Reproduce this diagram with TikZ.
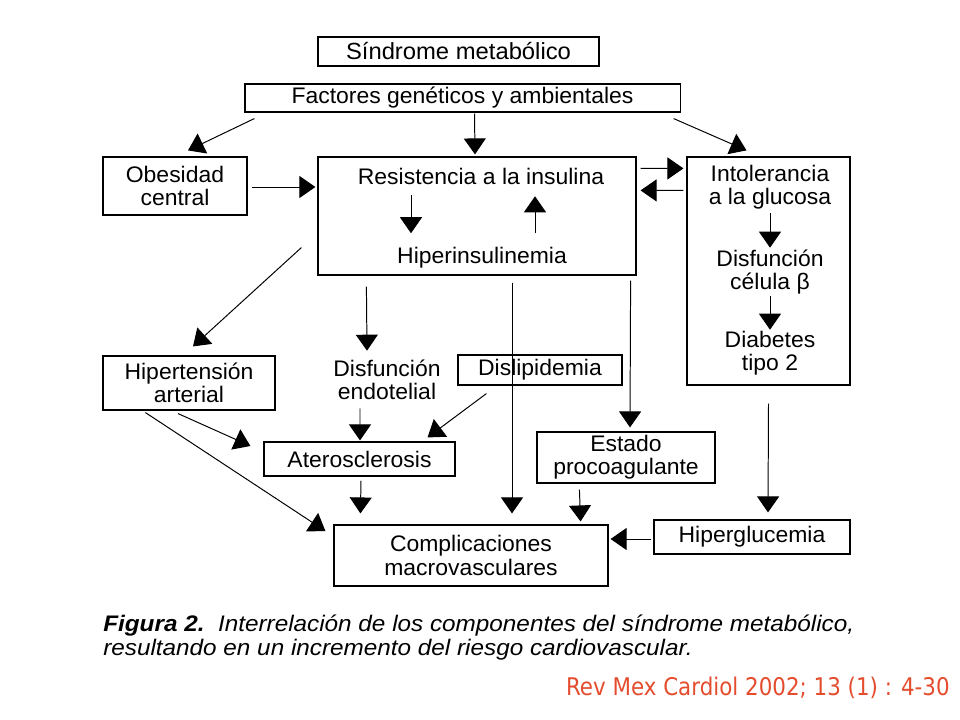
\documentclass[tikz,border=0pt]{standalone}
\usepackage{fontspec}
\setmainfont{Liberation Sans}
\newfontfamily\diagfont[FakeStretch=1.02]{Liberation Sans}
\newfontfamily\capfont[FakeStretch=1.08]{Liberation Sans}
\newfontfamily\reffont[FakeStretch=0.88]{DejaVu Sans}
\usetikzlibrary{arrows.meta}
\definecolor{refred}{RGB}{228,76,46}

\begin{document}
\begin{tikzpicture}[x=0.025cm, y=-0.025cm,
  box/.style={draw, line width=0.8pt, inner sep=0pt, align=center},
  txt/.style={inner sep=0pt, align=center},
  arr/.style={-{Triangle[width=0.55cm,length=0.4cm]}, line width=0.7pt},
  every node/.append style={font=\diagfont\fontsize{16}{16.5}\selectfont}]
  \useasboundingbox (0,0) rectangle (960,720);
  % boxes
  \node[box, minimum width=7.025cm, minimum height=0.725cm, font=\diagfont\fontsize{16.6}{18}\selectfont] (sindrome) at (458.5,51.5) {Síndrome metabólico};
  \node[box, minimum width=10.875cm, minimum height=0.7cm] (factores) at (462.5,98) {Factores genéticos y ambientales};
  \node[box, minimum width=3.6cm, minimum height=1.45cm] (obesidad) at (175,186) {Obesidad\\central};
  \node[box, minimum width=7.95cm, minimum height=2.95cm] (resistencia) at (477,216) {};
  \node[txt, minimum height=0.5cm] (resisttxt) at (481,176) {Resistencia a la insulina};
  \node[txt, minimum height=0.5cm] (hipertxt) at (482,258) {Hiperinsulinemia};
  \node[box, minimum width=4.075cm, minimum height=5.7cm] (intolerancia) at (768.5,271) {};
  \node[txt, minimum height=1.15cm] (into1) at (770,187) {Intolerancia\\a la glucosa};
  \node[txt, minimum height=1.15cm] (into2) at (770,272) {Disfunción\\célula β};
  \node[txt, minimum height=1.15cm] (into3) at (770,353) {Diabetes\\tipo 2};
  \node[box, minimum width=4.3cm, minimum height=1.35cm] (hipertension) at (189,383) {Hipertensión\\arterial};
  \node[txt, minimum height=1.2cm] (disfuncion) at (387,380) {Disfunción\\endotelial};
  \node[box, minimum width=4.1cm, minimum height=0.75cm] (dislipidemia) at (540,370) {Dislipidemia};
  \node[box, minimum width=4.775cm, minimum height=0.85cm] (ateros) at (359.5,459) {Aterosclerosis};
  \node[box, minimum width=4.45cm, minimum height=1.275cm] (estado) at (626,457.5) {Estado\\procoagulante};
  \node[box, minimum width=4.9cm, minimum height=0.85cm] (hiperglucemia) at (752,537) {Hiperglucemia};
  \node[box, minimum width=6.85cm, minimum height=1.525cm] (complicaciones) at (471,555.5) {Complicaciones\\macrovasculares};
  % arrows
  \draw[arr] ([shift={(10,6)}]factores.south west) -- ([shift={(13,-6)}]obesidad.north);
  \draw[arr] ([shift={(12,1)}]factores.south) -- ([shift={(-2,-2)}]resistencia.north);
  \draw[arr] ([shift={(-7,6)}]factores.south east) -- ([shift={(-22,-6)}]intolerancia.north);
  \draw[arr] ([shift={(4,1)}]obesidad.east) -- ([shift={(-2,-29)}]resistencia.west);
  \draw[arr] ([shift={(4,12)}]resistencia.north east) -- ([shift={(-3,12)}]intolerancia.north west);
  \draw[arr] ([shift={(-3,34)}]intolerancia.north west) -- ([shift={(4,34)}]resistencia.north east);
  \draw[arr] ([shift={(-70,9)}]resisttxt.south) -- ([shift={(-71,-14)}]hipertxt.north);
  \draw[arr] ([shift={(53,-14)}]hipertxt.north) -- ([shift={(54,10)}]resisttxt.south);
  \draw[arr] ([shift={(0,3)}]into1.south) -- ([shift={(0,-1)}]into2.north);
  \draw[arr] ([shift={(0,1)}]into2.south) -- (into3.north);
  \draw[arr] ([shift={(-16,-28)}]resistencia.south west) -- ([shift={(4,-9)}]hipertension.north);
  \draw[arr] ([shift={(49,11)}]resistencia.south west) -- ([shift={(-20,-5)}]disfuncion.north);
  \draw[arr] ([shift={(35,7)}]resistencia.south) -- ([shift={(41,-11)}]complicaciones.north);
  \draw[arr] ([shift={(-6,5)}]resistencia.south east) -- ([shift={(4,-4)}]estado.north);
  \draw[arr] ([shift={(0,18)}]intolerancia.south) -- ([shift={(16,-7)}]hiperglucemia.north);
  \draw[arr] ([shift={(-2,2)}]hiperglucemia.west) -- ([shift={(2,-16.5)}]complicaciones.east);
  \draw[arr] ([shift={(-11,3)}]hipertension.south) -- ([shift={(-13,-13)}]ateros.west);
  \draw[arr] ([shift={(43,2)}]hipertension.south west) -- ([shift={(-8,-24.5)}]complicaciones.west);
  \draw[arr] ([shift={(-27,4)}]disfuncion.south) -- ([shift={(0.5,-1)}]ateros.north);
  \draw[arr] ([shift={(29,8)}]dislipidemia.south west) -- ([shift={(-28,-4)}]ateros.north east);
  \draw[arr] ([shift={(1.5,4)}]ateros.south) -- ([shift={(27,-11)}]complicaciones.north west);
  \draw[arr] ([shift={(43,6)}]estado.south west) -- ([shift={(-28,-3)}]complicaciones.north east);
  % caption
  \node[anchor=base west, inner sep=0pt, font=\capfont\fontsize{16}{18}\selectfont] (cap1) at (103,631) {\textbf{\textit{Figura 2.}}\ \ \textit{Interrelación de los componentes del síndrome metabólico,}};
  \node[anchor=base west, inner sep=0pt, font=\capfont\fontsize{16}{18}\selectfont] (cap2) at (103,655) {\textit{resultando en un incremento del riesgo cardiovascular.}};
  \node[anchor=base east, inner sep=0pt, text=refred, font=\reffont\fontsize{17.3}{20}\selectfont] (fuente) at (950,695) {Rev Mex Cardiol 2002; 13 (1) : 4-30};
\end{tikzpicture}
\end{document}
